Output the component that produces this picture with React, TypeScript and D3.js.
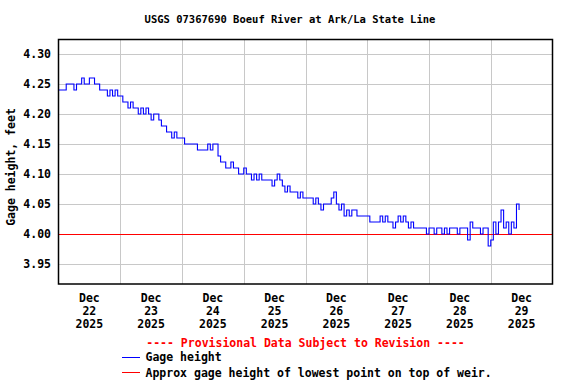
import React from "react";
import * as d3 from "d3";

// hourly gage height readings (feet)
const dec22 = [4.24, 4.24, 4.24, 4.25, 4.25, 4.25, 4.24, 4.25, 4.25, 4.26, 4.25, 4.25, 4.26, 4.26, 4.25, 4.25, 4.24, 4.24, 4.24, 4.23, 4.24, 4.23, 4.24, 4.23];
const dec23 = [4.23, 4.22, 4.22, 4.21, 4.22, 4.21, 4.21, 4.20, 4.21, 4.20, 4.21, 4.20, 4.19, 4.20, 4.20, 4.19, 4.18, 4.18, 4.17, 4.17, 4.16, 4.17, 4.16, 4.16];
const dec24 = [4.16, 4.15, 4.15, 4.15, 4.15, 4.15, 4.14, 4.14, 4.14, 4.14, 4.15, 4.14, 4.15, 4.15, 4.13, 4.12, 4.12, 4.11, 4.11, 4.12, 4.11, 4.11, 4.10, 4.10];
const dec25 = [4.11, 4.10, 4.10, 4.09, 4.10, 4.09, 4.10, 4.09, 4.09, 4.09, 4.09, 4.08, 4.09, 4.10, 4.09, 4.08, 4.07, 4.08, 4.07, 4.07, 4.07, 4.06, 4.07, 4.06];
const dec26 = [4.06, 4.06, 4.06, 4.05, 4.06, 4.05, 4.04, 4.05, 4.05, 4.05, 4.06, 4.07, 4.05, 4.04, 4.05, 4.03, 4.04, 4.03, 4.04, 4.04, 4.03, 4.03, 4.03, 4.03];
const dec27 = [4.03, 4.02, 4.02, 4.02, 4.02, 4.03, 4.02, 4.03, 4.02, 4.02, 4.01, 4.02, 4.03, 4.02, 4.03, 4.02, 4.01, 4.02, 4.01, 4.01, 4.01, 4.01, 4.01, 4.00];
const dec28 = [4.01, 4.01, 4.00, 4.01, 4.01, 4.00, 4.01, 4.00, 4.01, 4.01, 4.01, 4.00, 4.01, 4.01, 4.01, 3.99, 4.02, 4.01, 4.01, 4.01, 4.00, 4.01, 4.01, 3.98];
const dec29 = [3.99, 4.02, 4.00, 4.02, 4.04, 4.01, 4.02, 4.00, 4.02, 4.01, 4.05, 4.04];

const days = [dec22, dec23, dec24, dec25, dec26, dec27, dec28, dec29];
const dayLabels = ["22", "23", "24", "25", "26", "27", "28", "29"];
const yTicks = [3.95, 4.0, 4.05, 4.1, 4.15, 4.2, 4.25, 4.3];
const weirLevel = 4.0;

const W = 576, H = 384;
const left = 58.5, right = 552.5, top = 39.5, bottom = 284;
const font = "'DejaVu Sans Mono', monospace";

export default function App() {
  const x = d3.scaleTime()
    .domain([new Date(2025, 11, 22), new Date(2025, 11, 30)])
    .range([left, right]);
  const y = d3.scaleLinear()
    .domain([3.9167, 4.3242])
    .range([bottom, top]);

  const data: { t: Date; v: number }[] = [];
  days.forEach((vals, i) => {
    vals.forEach((v, h) => data.push({ t: new Date(2025, 11, 22 + i, h), v }));
  });

  const line = d3.line<{ t: Date; v: number }>()
    .x(d => x(d.t))
    .y(d => y(d.v))
    .curve(d3.curveStepAfter);

  const midnights = d3.range(1, 8).map(i => new Date(2025, 11, 22 + i));
  const snap = (v: number) => Math.round(v) + 0.5;

  return (
    <div style={{ position: "absolute", left: 0, top: 0 }}>
      <svg width={W} height={H} style={{ display: "block", background: "#fff" }}>
        <text x={290} y={23} textAnchor="middle" fontFamily={font} fontWeight="bold" fontSize={10.5}>
          USGS 07367690 Boeuf River at Ark/La State Line
        </text>

        {/* grid */}
        {yTicks.map(t => (
          <line key={t} x1={left} x2={right} y1={snap(y(t))} y2={snap(y(t))} stroke="#c8c8c8" strokeWidth={1} />
        ))}
        {midnights.map((d, i) => (
          <line key={i} x1={snap(x(d))} x2={snap(x(d))} y1={top} y2={bottom} stroke="#c8c8c8" strokeWidth={1} />
        ))}

        {/* weir level */}
        <line x1={left} x2={right} y1={snap(y(weirLevel))} y2={snap(y(weirLevel))} stroke="#ff0000" strokeWidth={1.2} />

        <path d={line(data) || ""} fill="none" stroke="#0000ff" strokeWidth={1.1} />

        <rect x={left} y={top} width={right - left} height={bottom - top} fill="none" stroke="#000" strokeWidth={1.5} />

        {/* y ticks */}
        {yTicks.map(t => (
          <text key={t} x={51} y={y(t)} dy="0.35em" textAnchor="end" fontFamily={font} fontWeight="bold" fontSize={11.5}>
            {t.toFixed(2)}
          </text>
        ))}
        <text transform={`translate(15,167) rotate(-90)`} textAnchor="middle" fontFamily={font} fontWeight="bold" fontSize={11.5}>
          Gage height, feet
        </text>

        {/* x labels at noon */}
        {dayLabels.map((lab, i) => {
          const cx = x(new Date(2025, 11, 22 + i, 12));
          return (
            <text key={lab} textAnchor="middle" fontFamily={font} fontWeight="bold" fontSize={11.5}>
              <tspan x={cx} y={302}>Dec</tspan>
              <tspan x={cx} y={315}>{lab}</tspan>
              <tspan x={cx} y={328}>2025</tspan>
            </text>
          );
        })}

        {/* legend */}
        <text x={305.5} y={347} textAnchor="middle" fill="#ff0000" fontFamily={font} fontWeight="bold" fontSize={11.5}>
          ---- Provisional Data Subject to Revision ----
        </text>
        <line x1={122} x2={140} y1={357.5} y2={357.5} stroke="#0000ff" strokeWidth={1} />
        <text x={145.5} y={361} fontFamily={font} fontWeight="bold" fontSize={11.5}>Gage height</text>
        <line x1={122} x2={140} y1={372.5} y2={372.5} stroke="#ff0000" strokeWidth={1} />
        <text x={145.5} y={377} fontFamily={font} fontWeight="bold" fontSize={11.5}>
          Approx gage height of lowest point on top of weir.
        </text>
      </svg>
    </div>
  );
}
